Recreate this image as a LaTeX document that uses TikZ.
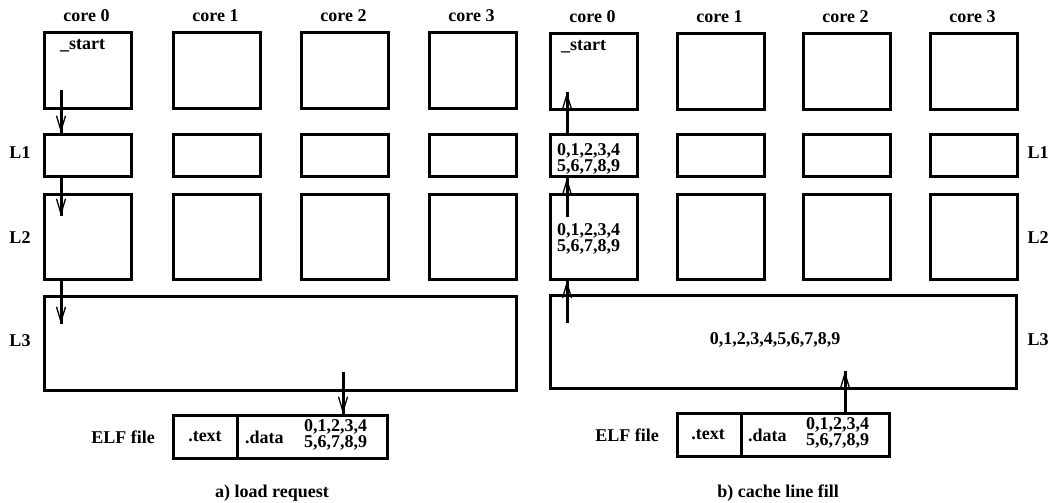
\documentclass[tikz,border=0pt]{standalone}
\usepackage{fontspec}
\setmainfont{Liberation Serif}
\usetikzlibrary{arrows.meta}
\begin{document}
\begin{tikzpicture}[x=1pt,y=-1pt,
  every node/.style={font=\fontsize{18}{16.5}\selectfont\bfseries, inner sep=0pt},
  box/.style={draw, line width=2.8pt, anchor=north west, minimum width=87pt, minimum height=#1},
  box/.default=76pt,
  shaft/.style={line width=3pt},
  tip/.style={line width=1.3pt, -{Straight Barb[length=15pt,width=9pt]}},
  nums/.style={align=left, font=\fontsize{18}{16.5}\selectfont\bfseries}]
\useasboundingbox (0,0) rectangle (1053,503);

% ---------------- left panel ----------------
\foreach \i/\x in {0/43,1/172,2/300,3/428}{
  \node[box] (Ca\i) at (\x,31) {};
  \node[box=42pt] (La\i) at (\x,133) {};
  \node[box=85pt] (Ma\i) at (\x,193) {};
  \node (ca\i) at (\x+43.5,16) {core \i};
}
\node[draw, line width=2.8pt, anchor=north west, minimum width=472pt, minimum height=94pt] (Ta) at (43,295) {};
\node[anchor=west] (sa) at (60,46) {\_start};
\node (la1) at (20,153) {L1};
\node (la2) at (20,238) {L2};
\node (la3) at (20,341) {L3};

\node[draw, line width=2.8pt, anchor=north west, minimum width=64pt, minimum height=43pt] (Ea1) at (172,414) {};
\node[draw, line width=2.8pt, anchor=north west, minimum width=150pt, minimum height=43pt] (Ea2) at (236,414) {};
\node (eta) at (205,437) {.text};
\node[anchor=west] (eda) at (245,437) {.data};
\node[nums, anchor=west] (ena) at (304,435) {0,1,2,3,4\\5,6,7,8,9};
\node (efa) at (123,437) {ELF file};
\node (capa) at (272,493) {a) load request};

\coordinate (sa1) at (61,90);
\coordinate (ea2) at (61,216);
\coordinate (ea3) at (61,324);
\coordinate (sa4) at (343,372);
\foreach \s in {shaft,tip}{
  \draw[\s] (sa1) -- (sa1 |- La0.north);
  \draw[\s] (La0.south -| ea2) -- (ea2);
  \draw[\s] (Ma0.south -| ea3) -- (ea3);
  \draw[\s] (sa4) -- (sa4 |- Ea2.north);
}

% ---------------- right panel ----------------
\foreach \i/\x in {0/549,1/676,2/802,3/929}{
  \node[box] (Cb\i) at (\x,32) {};
  \node[box=42pt] (Lb\i) at (\x,133) {};
  \node[box=85pt] (Mb\i) at (\x,193) {};
  \node (cb\i) at (\x+43.5,17) {core \i};
}
\node[draw, line width=2.8pt, anchor=north west, minimum width=466pt, minimum height=93pt] (Tb) at (549,294) {};
\node[anchor=west] (sb) at (561,47) {\_start};
\node[nums, anchor=west] (nb1) at (557,159) {0,1,2,3,4\\5,6,7,8,9};
\node[nums, anchor=west] (nb2) at (557,239) {0,1,2,3,4\\5,6,7,8,9};
\node (nb3) at (775,340) {0,1,2,3,4,5,6,7,8,9};
\node (lb1) at (1038,153) {L1};
\node (lb2) at (1038,238) {L2};
\node (lb3) at (1038,340) {L3};

\node[draw, line width=2.8pt, anchor=north west, minimum width=64pt, minimum height=43pt] (Eb1) at (676,412) {};
\node[draw, line width=2.8pt, anchor=north west, minimum width=148pt, minimum height=43pt] (Eb2) at (740,412) {};
\node (etb) at (708,435) {.text};
\node[anchor=west] (edb) at (748,435) {.data};
\node[nums, anchor=west] (enb) at (806,433) {0,1,2,3,4\\5,6,7,8,9};
\node (efb) at (627,435) {ELF file};
\node (capb) at (778,493) {b) cache line fill};

\coordinate (eb1) at (567,92);
\coordinate (sb2) at (567,217);
\coordinate (sb3) at (567,323);
\coordinate (eb4) at (845,371);
\foreach \s in {shaft,tip}{
  \draw[\s] (eb1 |- Lb0.north) -- (eb1);
  \draw[\s] (sb2) -- (sb2 |- Lb0.south);
  \draw[\s] (sb3) -- (sb3 |- Mb0.south);
  \draw[\s] (eb4 |- Eb2.north) -- (eb4);
}
\end{tikzpicture}
\end{document}
